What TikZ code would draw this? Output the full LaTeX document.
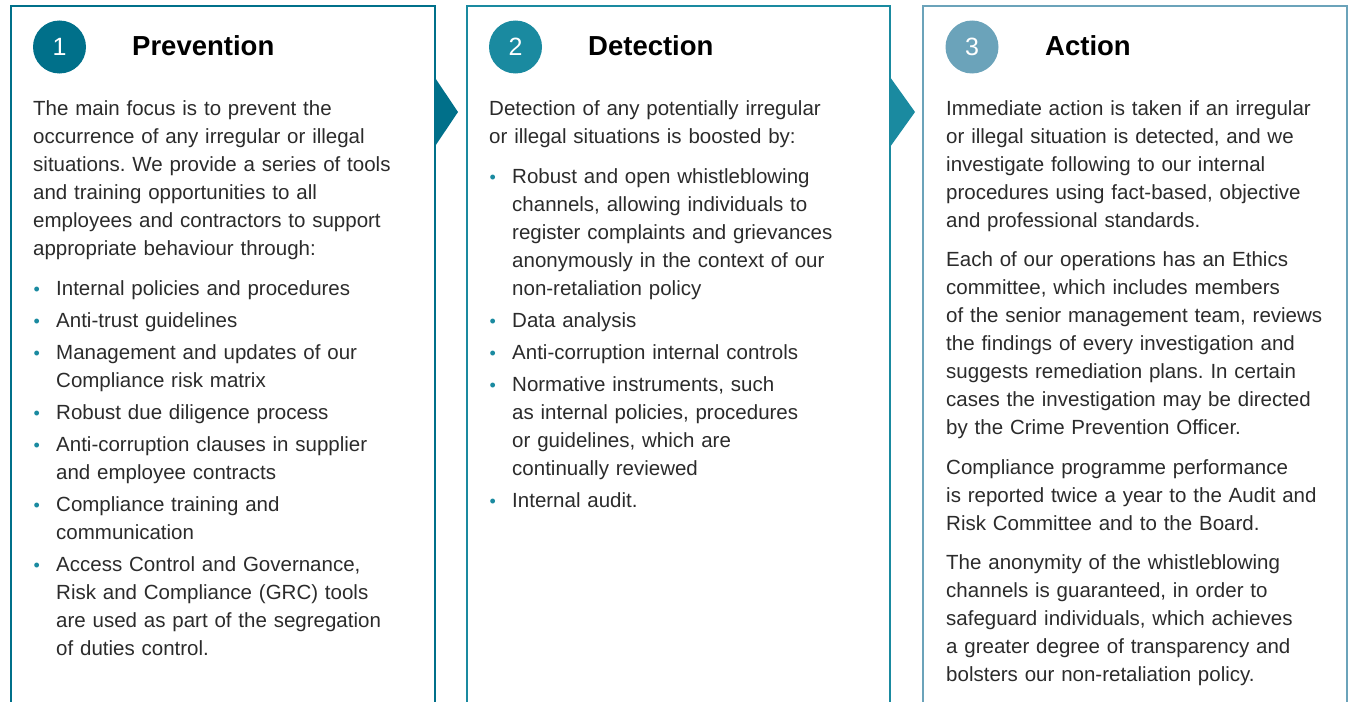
\documentclass[tikz,border=0pt]{standalone}
\usepackage{fontspec}
\setmainfont{Liberation Sans}
\usetikzlibrary{positioning}

\definecolor{tealA}{HTML}{00708A}
\definecolor{tealB}{HTML}{1A8AA0}
\definecolor{tealC}{HTML}{6BA3BA}
\definecolor{bodytext}{HTML}{2B2B2B}

\setlength{\parindent}{0pt}
\frenchspacing
\newcommand{\bodyfont}{\fontsize{20.5}{28}\selectfont\frenchspacing}
\newcommand{\itm}[1]{\par\vspace{4pt}\hangindent=23pt\hangafter=1%
  \makebox[23pt][l]{\hspace{0.5pt}\textcolor{tealB}{\fontsize{18}{18}\selectfont\textbullet}}#1\par}
\newcommand{\para}[1]{\par\vspace{11.5pt}#1\par}

\tikzset{
  panel/.style={line width=2pt},
  stepnum/.style={circle, minimum size=53pt, inner sep=0pt, text=white,
    font=\fontsize{25}{25}\selectfont},
  heading/.style={anchor=base west, inner sep=0pt, text=black,
    font=\bfseries\fontsize{27.5}{30}\selectfont},
  body/.style={anchor=north west, inner sep=0pt, align=left, text width=400pt,
    text=bodytext, font=\bodyfont},
}

\begin{document}
\begin{tikzpicture}[x=1pt,y=-1pt]
\useasboundingbox (0,0) rectangle (1348,701);

% panels
\coordinate (B1) at (11,6.5);
\coordinate (B2) at (467,6.5);
\coordinate (B3) at (923,6.5);
\draw[panel, tealA] (11,715) -- (B1) -- (434.5,6.5) -- (434.5,715);
\draw[panel, tealB] (467,715) -- (B2) -- (890,6.5) -- (890,715);
\draw[panel, tealC] (923,715) -- (B3) -- (1346.5,6.5) -- (1346.5,715);

% pointers between panels
\fill[tealA] (434.5,77) -- (458,112) -- (434.5,147) -- cycle;
\fill[tealB] (890,77) -- (915,112) -- (890,147) -- cycle;

% headings
\node[stepnum, fill=tealA] (N1) at (59.5,47) {1};
\node[stepnum, fill=tealB] (N2) at (515.5,47) {2};
\node[stepnum, fill=tealC] (N3) at (972,47) {3};
\node[heading] (T1) at (132,56) {Prevention};
\node[heading] (T2) at (588,56) {Detection};
\node[heading] (T3) at (1045,56) {Action};

% texts
\node[body] (P1) at (33,95.4) {\strut The main focus is to prevent the\newline
occurrence of any irregular or illegal\newline
situations. We provide a series of tools\newline
and training opportunities to all\newline
employees and contractors to support\newline
appropriate behaviour through:\par\vspace{8pt}
\itm{Internal policies and procedures}
\itm{Anti-trust guidelines}
\itm{Management and updates of our\newline Compliance risk matrix}
\itm{Robust due diligence process}
\itm{Anti-corruption clauses in supplier\newline and employee contracts}
\itm{Compliance training and\newline communication}
\itm{Access Control and Governance,\newline Risk and Compliance (GRC) tools\newline are used as part of the segregation\newline of duties control.}};

\node[body] (P2) at (489,95.4) {\strut Detection of any potentially irregular\newline
or illegal situations is boosted by:\par\vspace{8pt}
\itm{Robust and open whistleblowing\newline channels, allowing individuals to\newline register complaints and grievances\newline anonymously in the context of our\newline non-retaliation policy}
\itm{Data analysis}
\itm{Anti-corruption internal controls}
\itm{Normative instruments, such\newline as internal policies, procedures\newline or guidelines, which are\newline continually reviewed}
\itm{Internal audit.}};

\node[body] (P3) at (946,95.4) {\strut Immediate action is taken if an irregular\newline
or illegal situation is detected, and we\newline
investigate following to our internal\newline
procedures using fact-based, objective\newline
and professional standards.
\para{Each of our operations has an Ethics\newline committee, which includes members\newline of the senior management team, reviews\newline the findings of every investigation and\newline suggests remediation plans. In certain\newline cases the investigation may be directed\newline by the Crime Prevention Officer.}
\para{Compliance programme performance\newline is reported twice a year to the Audit and\newline Risk Committee and to the Board.}
\para{The anonymity of the whistleblowing\newline channels is guaranteed, in order to\newline safeguard individuals, which achieves\newline a greater degree of transparency and\newline bolsters our non-retaliation policy.}};
\end{tikzpicture}
\end{document}
